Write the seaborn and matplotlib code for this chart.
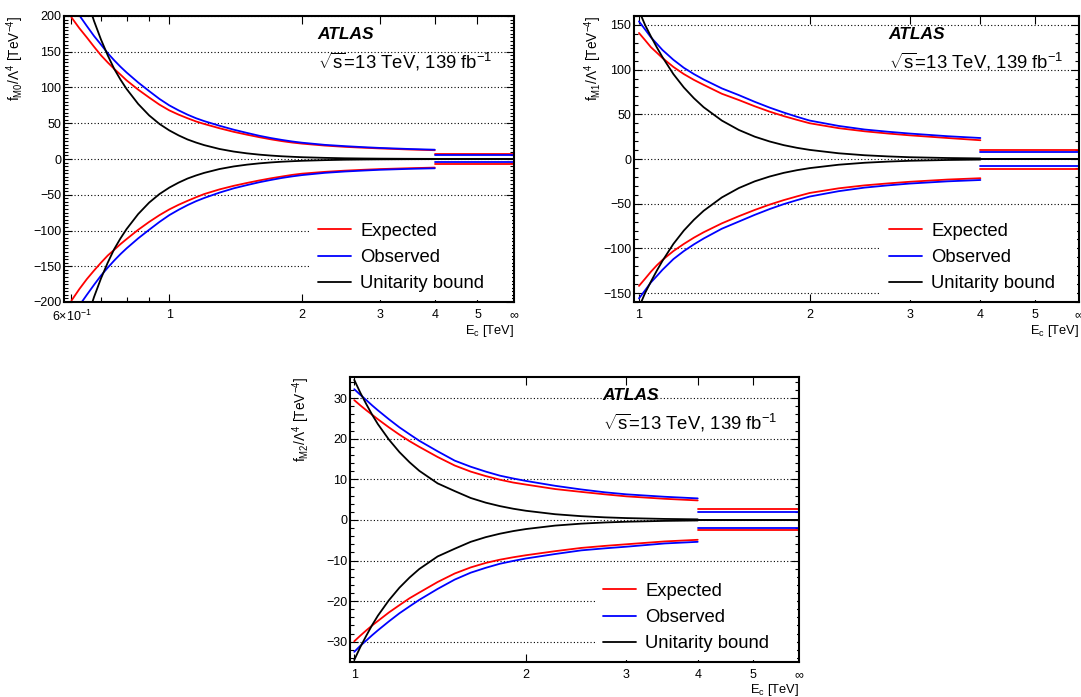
import numpy as np
import pandas as pd
import matplotlib
matplotlib.use("Agg")
import matplotlib.pyplot as plt
from matplotlib.ticker import FixedLocator, NullFormatter, MultipleLocator
from matplotlib.lines import Line2D
import seaborn as sns

sns.set_style("ticks")
plt.rcParams['font.family'] = ['Liberation Sans', 'DejaVu Sans']
plt.rcParams['mathtext.fontset'] = 'custom'
plt.rcParams['mathtext.rm'] = 'Liberation Sans'
plt.rcParams['mathtext.it'] = 'Liberation Sans:italic'
plt.rcParams['mathtext.bf'] = 'Liberation Sans:bold'
for k in ['text.color', 'axes.labelcolor', 'xtick.color', 'ytick.color', 'axes.edgecolor']:
    plt.rcParams[k] = 'black'

# ---------------- data ----------------
# fM0 panel
M0_E = [0.6, 0.625, 0.65, 0.675, 0.7, 0.725, 0.75, 0.775, 0.8, 0.85, 0.9, 0.95, 1.0, 1.05, 1.1, 1.15,
        1.2, 1.3, 1.4, 1.5, 1.6, 1.7, 1.8, 1.9, 2.0, 2.25, 2.5, 2.75, 3.0, 3.5, 4.0]
M0_exp_up = [198, 183, 170, 157, 145, 135, 126, 118, 110, 97, 86, 76, 68, 62, 57, 52.5,
             49, 43, 38, 34, 30.5, 27.5, 25, 23, 21.5, 18.8, 17, 15.8, 14.8, 13.3, 12.3]
M0_obs_up = [218, 201, 186, 172, 160, 148, 138, 129, 121, 107, 95, 84, 75, 68, 62, 57,
             53, 46.5, 41, 36.5, 32.5, 29.3, 26.7, 24.5, 22.8, 19.8, 18, 16.6, 15.5, 14, 13]
M0_exp_dn = [-198, -182, -168, -156, -145, -135, -127, -119, -112, -99, -88, -78.5, -70.5, -64, -58.5, -53.5,
             -49, -42.5, -37.5, -33.5, -30, -27, -24.5, -22.2, -20.5, -18, -16.3, -15.1, -14.1, -12.9, -12]
M0_obs_dn = [-222, -205, -190, -176, -163, -152, -142, -133, -125, -111, -99, -88, -78.5, -71, -64.5, -59,
             -54.5, -47, -41, -36.5, -32.5, -29.3, -26.5, -24.3, -22.5, -19.4, -17.5, -16.2, -15.1, -13.8, -13]
M0_uni = [310, 262, 224, 193, 167, 145, 126, 111, 98, 77, 61, 49, 40, 33, 27.3, 23,
          19.4, 14, 10.4, 7.9, 6.1, 4.8, 3.8, 3.1, 2.5, 1.6, 1.0, 0.7, 0.5, 0.27, 0.16]
M0_inf_exp = [7.0, -6.8]
M0_inf_obs = [5.3, -4.5]

# fM1 panel
M1_E = [1.0, 1.025, 1.05, 1.075, 1.1, 1.15, 1.2, 1.25, 1.3, 1.4, 1.5, 1.6, 1.7, 1.8, 1.9, 2.0,
        2.25, 2.5, 2.75, 3.0, 3.5, 4.0]
M1_exp_up = [141, 133, 125, 119, 113, 103, 95, 88.5, 83, 73, 66, 59, 53, 48, 43.8, 40,
             34.5, 31, 28.5, 26.5, 23.5, 21]
M1_obs_up = [154, 145, 136, 129, 122, 111, 102, 95, 89, 79, 71.5, 64, 57.5, 52, 47.2, 43,
             37, 33, 30.5, 28.5, 25.5, 23.5]
M1_exp_dn = [-142, -134, -126, -119, -113, -103, -95, -88, -82, -72, -64, -57, -51, -46, -41.8, -38,
             -32.8, -29.5, -27.3, -25.5, -23, -21.5]
M1_obs_dn = [-156, -147, -138, -131, -124, -112, -103, -95.5, -89, -78, -70, -62.5, -56, -50.5, -46, -42,
             -36, -32, -29.5, -27.5, -25, -23.5]
M1_uni = [166, 150, 137, 125, 114, 95, 80, 68, 58, 43, 32.5, 25, 19.6, 15.5, 12.5, 10.2,
          6.4, 4.2, 2.9, 2.0, 1.1, 0.65]
M1_inf_exp = [10.5, -11.0]
M1_inf_obs = [8.2, -8.3]

# fM2 panel
M2_E = [1.0, 1.025, 1.05, 1.075, 1.1, 1.15, 1.2, 1.25, 1.3, 1.4, 1.5, 1.6, 1.7, 1.8, 1.9, 2.0,
        2.25, 2.5, 2.75, 3.0, 3.5, 4.0]
M2_exp_up = [29.5, 28.2, 27, 25.9, 24.8, 22.8, 21, 19.4, 18, 15.5, 13.4, 11.9, 10.8, 9.9, 9.2, 8.7,
             7.6, 6.9, 6.3, 5.8, 5.2, 4.8]
M2_obs_up = [32.2, 30.8, 29.5, 28.2, 27, 24.8, 22.8, 21.1, 19.5, 16.9, 14.6, 13.1, 11.9, 10.9, 10.2, 9.6,
             8.4, 7.5, 6.8, 6.3, 5.7, 5.3]
M2_exp_dn = [-29.9, -28.5, -27.2, -26, -24.9, -22.8, -21, -19.3, -17.9, -15.3, -13.2, -11.7, -10.6, -9.8, -9.2, -8.7,
             -7.7, -6.9, -6.4, -6.0, -5.3, -4.9]
M2_obs_dn = [-32.5, -31, -29.7, -28.4, -27.2, -25, -23, -21.3, -19.7, -17, -14.7, -13, -11.8, -10.8, -10.1, -9.5,
             -8.4, -7.5, -7.0, -6.6, -5.8, -5.4]
M2_uni = [34.5, 31.3, 28.5, 25.9, 23.6, 19.8, 16.7, 14.2, 12.1, 9.0, 7.1, 5.4, 4.25, 3.4, 2.75, 2.25,
          1.4, 0.92, 0.63, 0.45, 0.24, 0.14]
M2_inf_exp = [2.7, -2.6]
M2_inf_obs = [2.0, -1.9]

E_SPLIT = 4.0
SERIES = ['Expected', 'Observed', 'Unitarity bound']
PALETTE = {'Expected': '#ff0000', 'Observed': '#0000ff', 'Unitarity bound': '#000000'}


def build_frame(E, eu, ed, ou, od, uni, inf_e, inf_o, x_inf):
    rows = []
    uni = np.asarray(uni, dtype=float)
    for name, up, dn, infv in [('Expected', eu, ed, inf_e),
                               ('Observed', ou, od, inf_o),
                               ('Unitarity bound', uni, -uni, [0.0, 0.0])]:
        for x, y in zip(E, up):
            rows.append((name, 'up', x, y))
        for x, y in zip(E, dn):
            rows.append((name, 'dn', x, y))
        for x in (E_SPLIT, x_inf):
            rows.append((name, 'up_inf', x, infv[0]))
            rows.append((name, 'dn_inf', x, infv[1]))
    return pd.DataFrame(rows, columns=['series', 'branch', 'E', 'f'])


fig = plt.figure(figsize=(10.81, 6.97), dpi=100)

panels = [
    dict(rect=[64/1081, 1-302/697, 450/1081, 286/697], data=(M0_E, M0_exp_up, M0_exp_dn, M0_obs_up, M0_obs_dn, M0_uni, M0_inf_exp, M0_inf_obs),
         xlim=(0.577, 6.05), ylim=(-200, 200), major=50, minor=5, name='M0',
         xticks=[0.6, 1, 2, 3, 4, 5], xlabels=[r'6$\times$10$^{-1}$', '1', '2', '3', '4', '5'], xminor=[0.7, 0.8, 0.9],
         txt_x=0.564, leg_x=0.548, ylab_x=-0.109),
    dict(rect=[634/1081, 1-302/697, 445/1081, 286/697], data=(M1_E, M1_exp_up, M1_exp_dn, M1_obs_up, M1_obs_dn, M1_uni, M1_inf_exp, M1_inf_obs),
         xlim=(0.98, 5.97), ylim=(-160, 160), major=50, minor=10, name='M1',
         xticks=[1, 2, 3, 4, 5], xlabels=['1', '2', '3', '4', '5'], xminor=[],
         txt_x=0.572, leg_x=0.556, ylab_x=-0.092),
    dict(rect=[350/1081, 1-662/697, 449/1081, 285/697], data=(M2_E, M2_exp_up, M2_exp_dn, M2_obs_up, M2_obs_dn, M2_uni, M2_inf_exp, M2_inf_obs),
         xlim=(0.983, 6.02), ylim=(-35, 35.2), major=10, minor=2, name='M2',
         xticks=[1, 2, 3, 4, 5], xlabels=['1', '2', '3', '4', '5'], xminor=[],
         txt_x=0.563, leg_x=0.547, ylab_x=-0.108),
]

for p in panels:
    ax = fig.add_axes(p['rect'])
    E, eu, ed, ou, od, uni, inf_e, inf_o = p['data']
    df = build_frame(E, eu, ed, ou, od, uni, inf_e, inf_o, p['xlim'][1])
    sns.lineplot(data=df, x='E', y='f', hue='series', units='branch', estimator=None,
                 hue_order=SERIES, palette=PALETTE, sort=False, legend=False,
                 linewidth=1.3, ax=ax)
    ax.set_xscale('log')
    ax.set_xlim(*p['xlim'])
    ax.set_ylim(*p['ylim'])

    ax.xaxis.set_major_locator(FixedLocator(p['xticks'] + [p['xlim'][1]]))
    ax.set_xticklabels(p['xlabels'] + [r'$\infty$'])
    ax.xaxis.set_minor_locator(FixedLocator(p['xminor']))
    ax.xaxis.set_minor_formatter(NullFormatter())
    ax.yaxis.set_major_locator(MultipleLocator(p['major']))
    ax.yaxis.set_minor_locator(MultipleLocator(p['minor']))

    ax.tick_params(which='both', direction='in', top=True, right=True, width=0.8, colors='black',
                   labelsize=9)
    ax.tick_params(axis='x', which='major', length=6, pad=5)
    ax.tick_params(axis='x', which='minor', length=3.5)
    ax.tick_params(axis='y', which='major', length=5.5, pad=2)
    ax.tick_params(axis='y', which='minor', length=3)
    ax.xaxis.get_major_ticks()[-1].tick1line.set_visible(False)
    ax.xaxis.get_major_ticks()[-1].tick2line.set_visible(False)

    ax.yaxis.grid(True, which='major', linestyle=(0, (1, 2)), color='black', linewidth=0.8)
    ax.xaxis.grid(False)
    for s in ax.spines.values():
        s.set_linewidth(1.5)
        s.set_color('black')

    ax.set_xlabel(r'E$_{\mathrm{c}}$ [TeV]', fontsize=9.3, loc='right')
    ax.xaxis.set_label_coords(1.0, -0.1)
    ax.xaxis.label.set_va('center')
    ax.set_ylabel(r'$\mathrm{f}_{\mathrm{%s}}/\Lambda^{4}$ [TeV$^{-4}$]' % p['name'], fontsize=9.8, loc='top')
    ax.yaxis.set_label_coords(p['ylab_x'], 1.0)
    ax.yaxis.label.set_va('center')

    ax.text(p['txt_x'], 0.934, 'ATLAS', transform=ax.transAxes, fontsize=12.5,
            fontweight='bold', fontstyle='italic', va='center', ha='left', color='black')
    ax.text(p['txt_x'], 0.839, r'$\sqrt{\mathrm{s}}$=13 TeV, 139 fb$^{-1}$', transform=ax.transAxes,
            fontsize=13.3, va='center', ha='left', color='black')

    handles = [Line2D([], [], color=PALETTE[s], lw=1.3) for s in SERIES]
    leg = ax.legend(handles, SERIES, loc='lower left',
                    bbox_to_anchor=(p['leg_x'], 0.008, 1 - p['leg_x'] - 0.004, 0.3),
                    mode='expand', borderaxespad=0, borderpad=0.4, fontsize=13.3,
                    handlelength=1.8, handletextpad=0.5, labelspacing=0.5,
                    frameon=True, fancybox=False, framealpha=1)
    leg.get_frame().set_edgecolor('none')
    leg.get_frame().set_facecolor('white')
    for t in leg.get_texts():
        t.set_color('black')

fig.savefig('out.png', dpi=100)
